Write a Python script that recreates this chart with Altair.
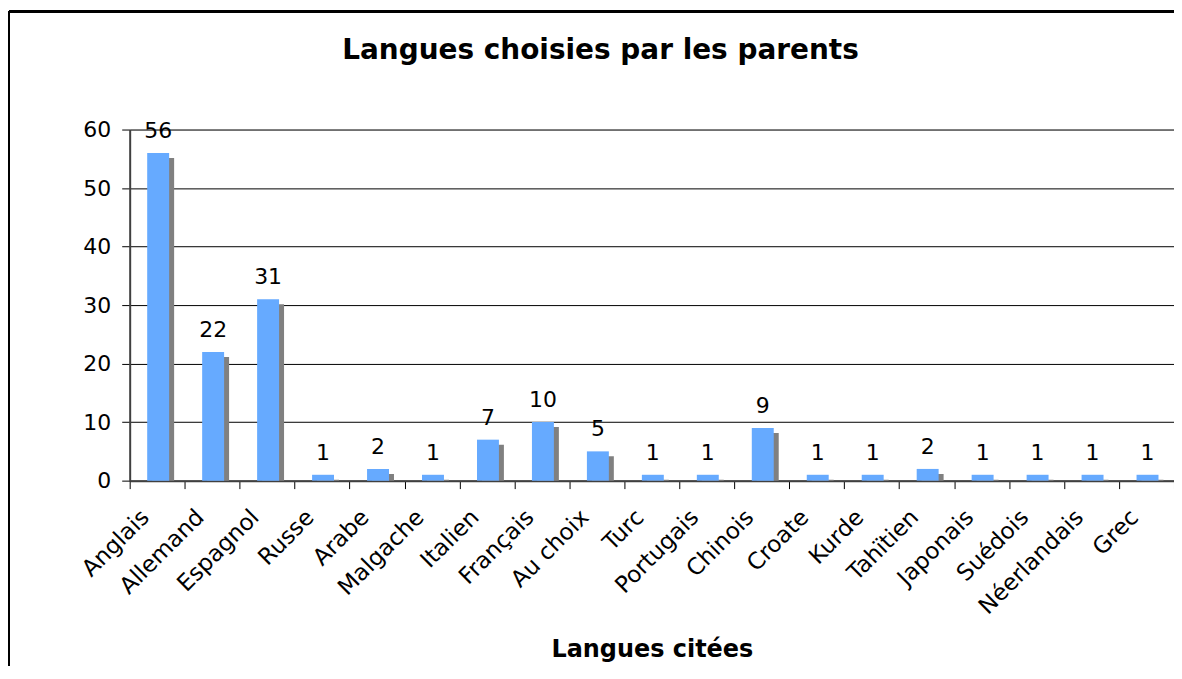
import altair as alt
import pandas as pd

langues = ["Anglais", "Allemand", "Espagnol", "Russe", "Arabe", "Malgache", "Italien",
           "Français", "Au choix", "Turc", "Portugais", "Chinois", "Croate", "Kurde",
           "Tahïtien", "Japonais", "Suédois", "Néerlandais", "Grec"]
valeurs = [56, 22, 31, 1, 2, 1, 7, 10, 5, 1, 1, 9, 1, 1, 2, 1, 1, 1, 1]
y_ticks = [0, 10, 20, 30, 40, 50, 60]
titre = "Langues choisies par les parents"

df = pd.DataFrame({"langue": langues, "n": valeurs})

W, H = 1047, 352
FONT = "DejaVu Sans"

x_enc = alt.X("langue:N", sort=langues, title="Langues citées",
              scale=alt.Scale(paddingInner=0, paddingOuter=0),
              axis=alt.Axis(labelAngle=-45, labelFontSize=23, labelFont=FONT,
                            labelColor="black", labelAlign="right", labelBaseline="top",
                            labelOffset=-20, labelPadding=17,
                            tickBand="extent", tickSize=8, tickColor="black",
                            domainColor="#404040", domainWidth=2,
                            titleFontSize=24, titleFont=FONT, titleFontWeight="bold",
                            titleColor="black", titleX=W / 2, titleY=176,
                            titleBaseline="alphabetic", titleAnchor="middle", grid=False))
y_enc = alt.Y("n:Q", title=None,
              scale=alt.Scale(domain=[0, 60], nice=False),
              axis=alt.Axis(values=y_ticks, labelFontSize=22, labelFont=FONT,
                            labelColor="black", labelPadding=11, tickSize=8,
                            tickColor="black", domainColor="#404040", domainWidth=2,
                            grid=True, gridColor="black", gridWidth=1))

base = alt.Chart(df)

shadow = base.mark_bar(color="#808080", width=22, xOffset=6, yOffset=5, clip=True).encode(
    x=x_enc, y=y_enc)
bars = base.mark_bar(color="#66AAFF", width=22, xOffset=1).encode(x=x_enc, y=y_enc)
labels = base.mark_text(fontSize=22, font=FONT, color="black", dy=-15,
                        baseline="alphabetic", xOffset=1).encode(
    x=x_enc, y=y_enc, text="n:Q")

title_txt = alt.Chart(pd.DataFrame({"t": [titre]})).mark_text(
    fontSize=28, font=FONT, fontWeight="bold", color="black",
    baseline="alphabetic", align="center").encode(
    x=alt.value(472), y=alt.value(-71), text="t:N")

frame_v = base.mark_rule(color="black", strokeWidth=2).encode(
    x=alt.value(-121), y=alt.value(-118), y2=alt.value(H + 400))
frame_h = base.mark_rule(color="black", strokeWidth=2).encode(
    x=alt.value(-121), x2=alt.value(W + 100), y=alt.value(-118))

chart = alt.layer(shadow, bars, labels, title_txt, frame_v, frame_h).properties(
    width=W, height=H,
    padding={"left": 122, "top": 121, "right": 0, "bottom": 185},
    autosize=alt.AutoSizeParams(type="none"),
).configure_view(
    fill="#CCCCCC", stroke="#808080", strokeWidth=2
).configure(background="white")

chart.save("out.html", embed_options={"renderer": "svg", "actions": False})
